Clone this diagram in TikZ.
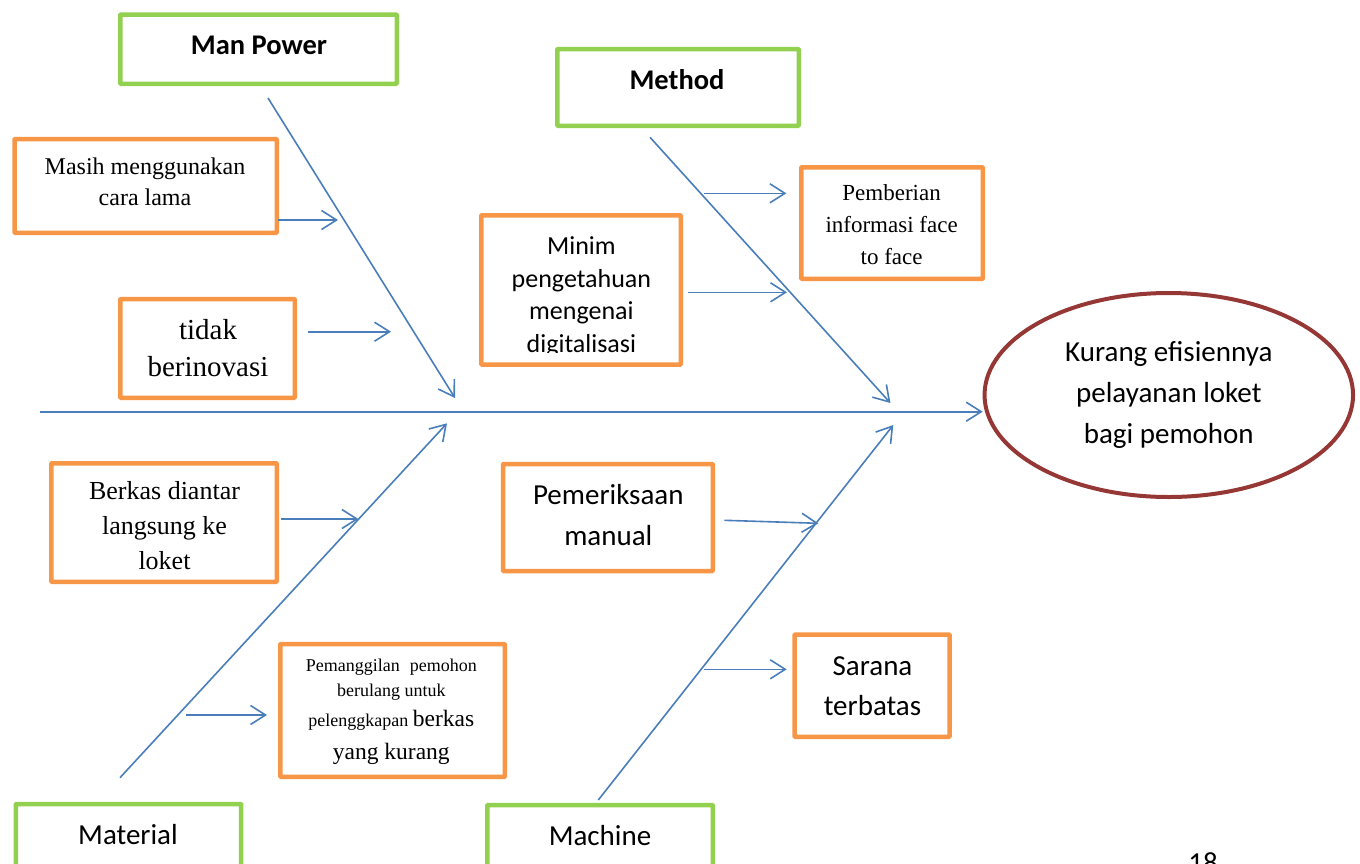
\documentclass[tikz,border=0pt]{standalone}
\usepackage{fontspec}
\setmainfont{Liberation Serif}
\setsansfont{Carlito}
\usetikzlibrary{arrows.meta,fit,shapes.geometric}
\definecolor{bonecol}{HTML}{4A7EBB}
\definecolor{boxorange}{HTML}{F79646}
\definecolor{boxgreen}{HTML}{92D050}
\definecolor{effred}{HTML}{953735}
\begin{document}
\begin{tikzpicture}[x=1pt,y=-1pt,
  obox/.style={draw=boxorange, line width=4.5pt, inner sep=0pt, rounded corners=0.8pt},
  gbox/.style={draw=boxgreen, line width=4.5pt, inner sep=0pt, rounded corners=0.8pt},
  arr/.style={draw=bonecol, line width=1.6pt, -{Straight Barb[length=15pt,width=19pt]}},
  txt/.style={inner sep=0pt, align=center, text=black}
]
\useasboundingbox (0,0) rectangle (1360,863);

% boxes
\node[gbox, fit={(120.3,14.5) (396.8,83.8)}] (manpower) {};
\node[gbox, fit={(557.3,49) (798.8,125.8)}] (method) {};
\node[gbox, fit={(15.8,804) (241.2,900)}] (material) {};
\node[gbox, fit={(487.3,805) (712.8,900)}] (machine) {};
\node[obox, fit={(14.5,139) (276.8,232.8)}] (masih) {};
\node[obox, fit={(120.3,299) (294.8,397.8)}] (tidak) {};
\node[obox, fit={(481.3,215.3) (680.8,364.5)}] (minim) {};
\node[obox, fit={(801.3,167.3) (982.8,278.8)}] (pemberian) {};
\node[obox, fit={(51.3,463.3) (276.8,581.8)}] (berkas) {};
\node[obox, fit={(280.3,644) (504.8,776.8)}] (pemanggilan) {};
\node[obox, fit={(503,464) (712.8,571)}] (pemeriksaan) {};
\node[obox, fit={(794.6,634.6) (949.5,736.8)}] (sarana) {};
\node[ellipse, draw=effred, line width=4pt, minimum width=368.5pt, minimum height=204pt,
      inner sep=0pt, align=center, font=\sffamily\fontsize{29}{41}\selectfont] (effect) at (1168.8,395)
      {Kurang efisiennya\\pelayanan loket\\bagi pemohon};

% texts
\node[txt, font=\sffamily\bfseries\fontsize{28.5}{34}\selectfont] (tmanpower) at (259,45) {Man Power};
\node[txt, font=\sffamily\bfseries\fontsize{28.5}{34}\selectfont] (tmethod) at (677,79.3) {Method};
\node[txt, font=\sffamily\fontsize{29}{35}\selectfont] (tmaterial) at (128,835) {Material};
\node[txt, font=\sffamily\fontsize{29}{35}\selectfont] (tmachine) at (600,836) {Machine};
\node[txt, font=\fontsize{24}{31.5}\selectfont] (tmasih) at (145,182) {Masih menggunakan\\cara lama};
\node[txt, font=\fontsize{29}{37}\selectfont] (ttidak) at (208,348) {tidak\\berinovasi};
\begin{scope}
\clip (483.5,217.5) rectangle (678.5,352.7);
\node[txt, font=\sffamily\fontsize{26}{32.5}\selectfont] (tminim) at (581.4,297) {Minim\\pengetahuan\\mengenai\\digitalisasi};
\end{scope}
\node[txt, font=\fontsize{23}{32}\selectfont] (tpemberian) at (891.6,225) {Pemberian\\informasi face\\to face};
\node[txt, font=\fontsize{26}{35}\selectfont] (tberkas) at (164.5,526) {Berkas diantar\\langsung ke\\loket};
\node[txt, font=\fontsize{18}{25}\selectfont] (tpemanggilan) at (391.3,712)
  {Pemanggilan\hspace{10pt}pemohon\\berulang untuk\\[5pt]pelenggkapan {\fontsize{23.5}{29}\selectfont berkas}\\[8pt]{\fontsize{23.5}{31}\selectfont yang kurang}};
\node[txt, font=\sffamily\fontsize{29}{41}\selectfont] (tpemeriksaan) at (608.3,515.5) {Pemeriksaan\\manual};
\node[txt, font=\sffamily\fontsize{29}{40}\selectfont] (tsarana) at (872.5,686) {Sarana\\terbatas};
\node[txt, font=\sffamily\fontsize{29}{35}\selectfont, anchor=north] (pagenum) at (1203,852) {18};

% coordinates
\coordinate (spineS) at (40,411.7);
\coordinate (spineE) at (982.7,411.7);
\coordinate (mpS) at (268,98);
\coordinate (mpE) at (455,398);
\coordinate (meS) at (650,137.3);
\coordinate (meE) at (890.4,403);
\coordinate (maS) at (120,777.7);
\coordinate (maE) at (447,423.3);
\coordinate (mcS) at (598.3,800);
\coordinate (mcE) at (893.3,425);
\coordinate (a1S) at (278,220);
\coordinate (a1E) at (338,220);
\coordinate (a2S) at (308,331.7);
\coordinate (a2E) at (391,331.7);
\coordinate (a3S) at (703.8,193.3);
\coordinate (a3E) at (786.4,193.3);
\coordinate (a4S) at (688.3,292.3);
\coordinate (a4E) at (787,292.3);
\coordinate (a5S) at (280.6,519);
\coordinate (a5E) at (358.4,519);
\coordinate (a6S) at (186,715);
\coordinate (a6E) at (267,715);
\coordinate (a7S) at (724.3,520.3);
\coordinate (a7E) at (818.3,523.3);
\coordinate (a8S) at (704,669.3);
\coordinate (a8E) at (786.7,669.3);

% connectors
\draw[arr] (spineS) -- (spineE);
\draw[arr] (mpS) -- (mpE);
\draw[arr] (meS) -- (meE);
\draw[arr] (maS) -- (maE);
\draw[arr] (mcS) -- (mcE);
\draw[arr] (a1S) -- (a1E);
\draw[arr] (a2S) -- (a2E);
\draw[arr] (a3S) -- (a3E);
\draw[arr] (a4S) -- (a4E);
\draw[arr] (a5S) -- (a5E);
\draw[arr] (a6S) -- (a6E);
\draw[arr] (a7S) -- (a7E);
\draw[arr] (a8S) -- (a8E);
\end{tikzpicture}
\end{document}
